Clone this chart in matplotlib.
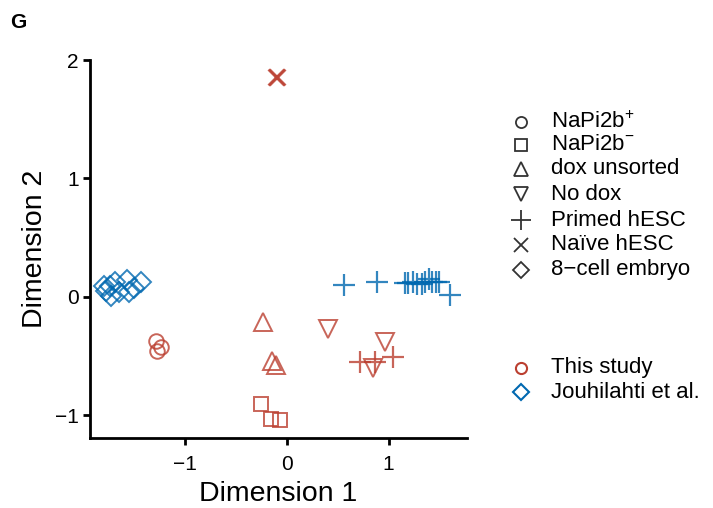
import matplotlib
matplotlib.use("Agg")
import matplotlib.pyplot as plt
from matplotlib.lines import Line2D

plt.rcParams['font.family'] = ['Liberation Sans', 'DejaVu Sans']
plt.rcParams['mathtext.fontset'] = 'custom'
plt.rcParams['mathtext.rm'] = 'Liberation Sans'
plt.rcParams['mathtext.it'] = 'Liberation Sans'

# ---- data ----
# this study (red)
pos_x = [-1.28, -1.23, -1.27]
pos_y = [-0.37, -0.42, -0.46]
neg_x = [-0.255, -0.15, -0.07]
neg_y = [-0.90, -1.03, -1.04]
dox_x = [-0.235, -0.14, -0.105]
dox_y = [-0.21, -0.54, -0.57]
nodox_x = [0.41, 0.97, 0.85]
nodox_y = [-0.27, -0.38, -0.60]
primed_red_x = [0.72, 0.87, 1.045]
primed_red_y = [-0.55, -0.55, -0.51]
naive_x = [-0.10, -0.09]
naive_y = [1.86, 1.855]
# Jouhilahti et al. (blue)
primed_blue_x = [0.56, 0.89, 1.16, 1.19, 1.24, 1.28, 1.33, 1.36, 1.40, 1.43, 1.47, 1.50, 1.60]
primed_blue_y = [0.10, 0.13, 0.12, 0.12, 0.13, 0.11, 0.11, 0.13, 0.15, 0.13, 0.13, 0.13, 0.02]
embryo_x = [-1.79, -1.77, -1.73, -1.72, -1.68, -1.65, -1.57, -1.55, -1.50, -1.43]
embryo_y = [0.09, 0.05, 0.09, 0.01, 0.13, 0.04, 0.14, 0.04, 0.08, 0.13]

shape_labels = ['NaPi2b$^{+}$', 'NaPi2b$^{\u2212}$', 'dox unsorted', 'No dox',
                'Primed hESC', 'Na\u00efve hESC', '8\u2212cell embryo']
shape_markers = ['o', 's', '^', 'v', '+', 'x', 'D']
source_labels = ['This study', 'Jouhilahti et al.']

red = '#BB3F30'
blue = '#0068B0'

fig = plt.figure(figsize=(7.13, 5.08), dpi=100)
ax = fig.add_axes([90/713, 1 - 438/508, (467-90)/713, (438-60)/508])

def pts(x, y, m, c, ms, mew=1.4):
    ax.plot(x, y, linestyle='none', marker=m, markersize=ms, markerfacecolor='none',
            markeredgecolor=c, markeredgewidth=mew, alpha=0.8)

pts(pos_x, pos_y, 'o', red, 10.5)
pts(neg_x, neg_y, 's', red, 10)
pts(dox_x, dox_y, '^', red, 13)
pts(nodox_x, nodox_y, 'v', red, 13)
pts(primed_red_x, primed_red_y, '+', red, 16, 1.6)
pts(naive_x, naive_y, 'x', red, 12, 2.0)
pts(primed_blue_x, primed_blue_y, '+', blue, 16, 1.6)
pts(embryo_x, embryo_y, 'D', blue, 10)

ax.set_xlim(-1.93, 1.77)
ax.set_ylim(-1.19, 2.0)
ax.set_xticks([-1, 0, 1])
ax.set_xticklabels(['\u22121', '0', '1'])
ax.set_yticks([-1, 0, 1, 2])
ax.set_yticklabels(['\u22121', '0', '1', '2'])
for s in ['top', 'right']:
    ax.spines[s].set_visible(False)
for s in ['left', 'bottom']:
    ax.spines[s].set_linewidth(2.0)
ax.tick_params(width=2.0, length=5, labelsize=15, pad=3, colors='black')
ax.tick_params(axis='x', pad=7)
ax.set_xlabel('Dimension 1', fontsize=20.5, labelpad=5)
ax.set_ylabel('Dimension 2', fontsize=20.5, labelpad=5)

fig.text(10/713, 1 - 22/508, 'G', fontsize=15, fontweight='bold', va='center', ha='left')

# manual legends in figure pixel coords
lax = fig.add_axes([0, 0, 1, 1], facecolor='none')
lax.set_xlim(0, 713)
lax.set_ylim(508, 0)
lax.axis('off')
row_y = [122, 145, 169, 194, 220, 245, 270]
leg_ms = [8, 8, 10.5, 10.5, 14, 10, 8]
for yy, m, lab, ms in zip(row_y, shape_markers, shape_labels, leg_ms):
    lax.add_line(Line2D([521], [yy], marker=m, markersize=ms, markerfacecolor='none',
                        markeredgecolor='#333333', markeredgewidth=1.3, linestyle='none'))
    lax.text(551, yy, lab, fontsize=16, va='center', ha='left')

src_y = [368, 392]
for yy, m, c, lab, ms in zip(src_y, ['o', 'D'], [red, blue], source_labels, [8, 8]):
    lax.add_line(Line2D([521], [yy], marker=m, markersize=ms, markerfacecolor='none',
                        markeredgecolor=c, markeredgewidth=1.5, linestyle='none'))
    lax.text(551, yy, lab, fontsize=16, va='center', ha='left')

fig.savefig('out.png', dpi=100)
